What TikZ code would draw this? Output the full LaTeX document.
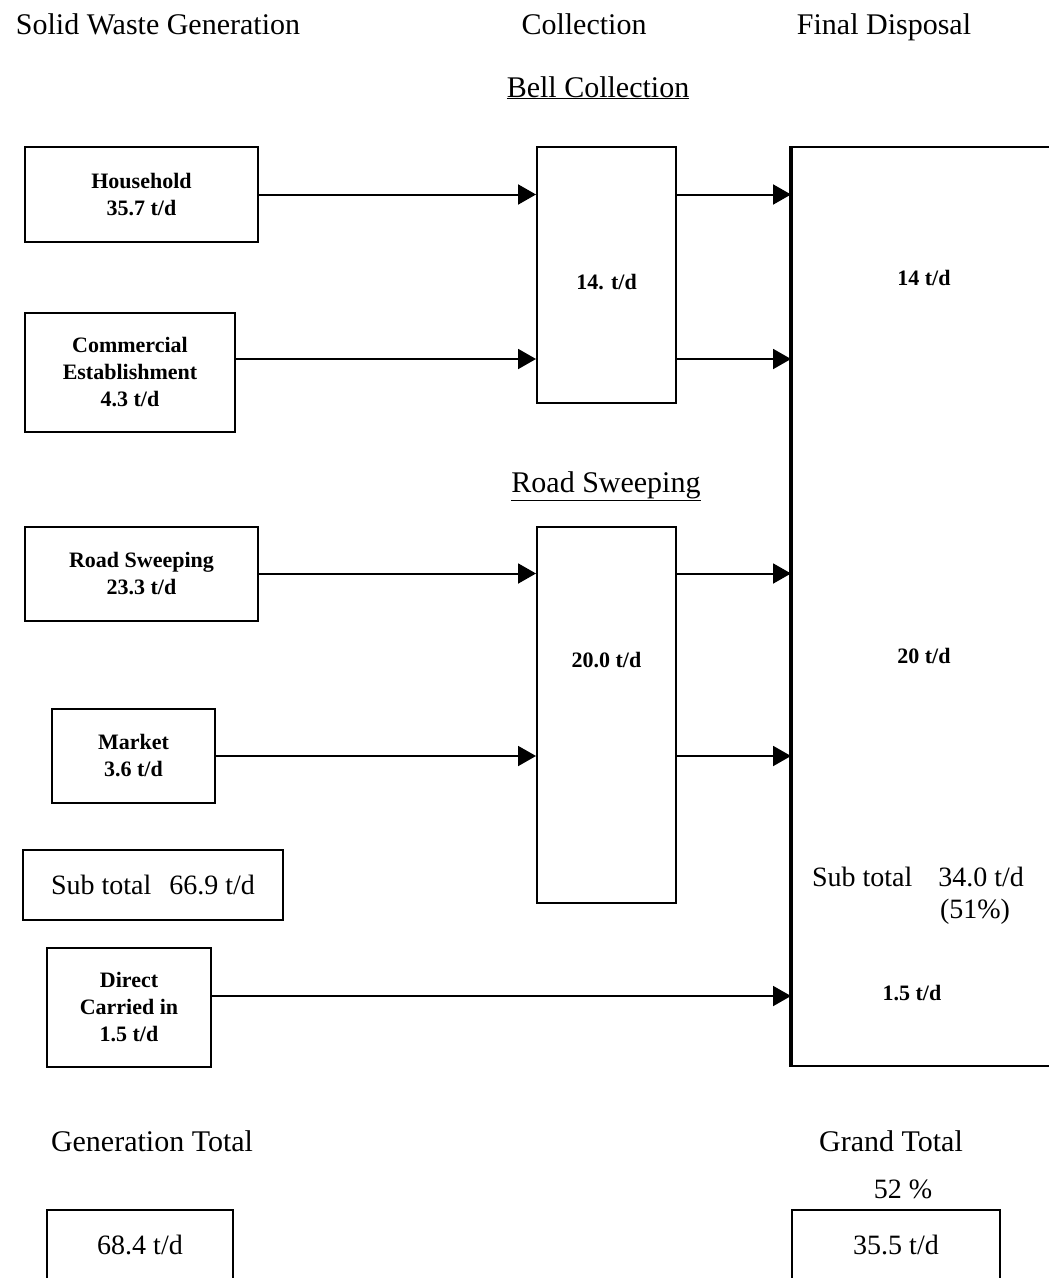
\documentclass[tikz,border=0pt]{standalone}
\usepackage{fontspec}
\setmainfont{Liberation Serif}
\usetikzlibrary{arrows.meta,calc}
\begin{document}
\begin{tikzpicture}[x=1pt,y=-1pt,
  box/.style={draw=black,line width=2pt,rectangle,inner sep=0pt,align=center,
    font=\fontsize{22}{27}\selectfont\bfseries},
  arr/.style={line width=2pt,-{Triangle[length=18pt,width=20pt]}},
  hdr/.style={font=\fontsize{30}{34}\selectfont,inner sep=0pt,anchor=base},
  inl/.style={font=\fontsize{22}{27}\selectfont\bfseries,inner sep=0pt},
  big/.style={font=\fontsize{28}{34}\selectfont,inner sep=0pt,align=left}]
\useasboundingbox[fill=white] (0,0) rectangle (1049,1278);

% headers
\node[hdr] (h1) at (158,34) {Solid Waste Generation};
\node[hdr] (h2) at (584,34) {Collection};
\node[hdr] (h3) at (884,34) {Final Disposal};
\node[hdr] (hbell) at (598,97) {\underline{Bell Collection}};
\node[hdr] (hroad) at (606,492) {\underline{Road Sweeping}};

% generation boxes
\node[box,minimum width=233pt,minimum height=95pt] (hh) at (141.5,194.5) {Household\\35.7 t/d};
\node[box,minimum width=210pt,minimum height=119pt] (comm) at (130,372.5) {Commercial\\Establishment\\4.3 t/d};
\node[box,minimum width=233pt,minimum height=94pt] (rs) at (141.5,573.5) {Road Sweeping\\23.3 t/d};
\node[box,minimum width=163pt,minimum height=94pt] (mk) at (133.5,756) {Market\\3.6 t/d};
\node[box,font=\fontsize{28}{34}\selectfont,minimum width=260pt,minimum height=70pt] (sub1) at (153,885) {Sub total\hspace{18pt}66.9 t/d};
\node[box,minimum width=164pt,minimum height=119pt] (dc) at (129,1007.5) {Direct\\Carried in\\1.5 t/d};

% collection boxes
\node[box,minimum width=139pt,minimum height=256pt] (bell) at (606.5,275) {};
\node[inl] (bellv) at (606.5,282) {14. t/d};
\node[box,minimum width=139pt,minimum height=376pt] (road) at (606.5,715) {};
\node[inl] (roadv) at (606.5,660) {20.0 t/d};

% final disposal
\node[box,minimum width=288pt,minimum height=919pt] (fd) at (936,606.5) {};
\draw[line width=4pt] (fd.north west) -- (fd.south west);
\node[inl] (f14) at (924,278) {14 t/d};
\node[inl] (f20) at (924,656) {20 t/d};
\node[big] (fsub) at (918,877) {Sub total\hspace{26pt}34.0 t/d};
\node[big] (fpct) at (975,912) {(51\%)};
\node[inl] (f15) at (912,993) {1.5 t/d};

% totals
\node[hdr] (gt) at (152,1151) {Generation Total};
\node[box,minimum width=186pt,minimum height=100pt] (gtb) at (140,1260) {};
\node[big] (gtv) at (140,1245) {68.4 t/d};
\node[hdr] (grt) at (891,1151) {Grand Total};
\node[big] (pct) at (903,1189) {52 \%};
\node[box,minimum width=208pt,minimum height=100pt] (grb) at (896,1260) {};
\node[big] (grv) at (896,1245) {35.5 t/d};

% connectors
\draw[arr] (hh.east) -- (hh.east -| bell.west);
\draw[arr] ([yshift=13.5pt]comm.east) -- ([yshift=13.5pt]comm.east -| bell.west);
\draw[arr] (hh.east -| bell.east) -- (hh.east -| fd.west);
\draw[arr] ([yshift=13.5pt]comm.east -| bell.east) -- ([yshift=13.5pt]comm.east -| fd.west);
\draw[arr] (rs.east) -- (rs.east -| road.west);
\draw[arr] (mk.east) -- (mk.east -| road.west);
\draw[arr] (rs.east -| road.east) -- (rs.east -| fd.west);
\draw[arr] (mk.east -| road.east) -- (mk.east -| fd.west);
\draw[arr] ([yshift=11.5pt]dc.east) -- ([yshift=11.5pt]dc.east -| fd.west);
\end{tikzpicture}
\end{document}
